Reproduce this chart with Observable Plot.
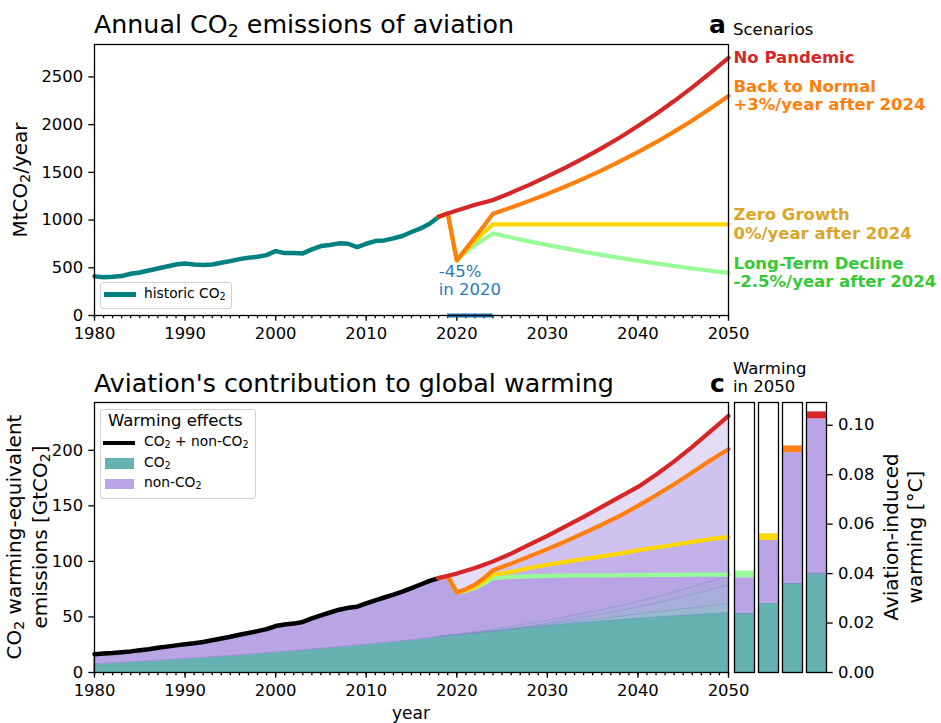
<!DOCTYPE html>
<html><head><meta charset="utf-8">
<script src="https://cdn.jsdelivr.net/npm/d3@7"></script>
<script src="https://cdn.jsdelivr.net/npm/@observablehq/plot@0.6"></script>
<style>
body{margin:0;background:#fff;font-family:"DejaVu Sans",sans-serif;color:#000;}
#root{position:relative;width:941px;height:723px;overflow:hidden;background:#fff;}
.abs{position:absolute;white-space:pre;line-height:1;}
.rot{position:absolute;white-space:pre;text-align:center;transform:translate(-50%,-50%) rotate(-90deg);font-size:20px;line-height:24px;}
.lg{position:absolute;border:1px solid #d0d0d0;border-radius:3px;background:rgba(255,255,255,0.85);}
.sub{font-size:0.7em;position:relative;top:0.24em;}
</style></head><body><div id="root"></div>
<script>
// ---------- DATA ----------
const histYears = d3.range(1980, 2019);
// historic aviation CO2 emissions, MtCO2/year
const histMt = [410,402,406,413,437,451,472,493,514,535,546,535,528,535,553,570,591,605,616,633,675,654,654,651,693,728,738,756,752,717,752,780,787,808,833,875,913,962,1035];
// historic warming-equivalent emissions, GtCO2 (cumulative)
const histCO2Gt = [8.0,8.4,8.8,9.2,9.65,10.1,10.55,11.05,11.55,12.1,12.65,13.2,13.7,14.25,14.8,15.35,15.95,16.55,17.15,17.8,18.45,19.1,19.75,20.4,21.1,21.8,22.55,23.3,24.05,24.8,25.55,26.3,27.1,27.9,28.7,29.55,30.45,31.35,32.35];
const histTotGt = [16.5,17,17.5,18.2,19,20,21,22.2,23.3,24.4,25.5,26.3,27.5,29,30.6,32.2,34,35.6,37.2,39,41.8,43.2,44,45.5,48.7,51.5,54,56.5,58.2,59.2,62.2,65,67.5,70,72.8,76,79.2,82.4,85];

const scenarioYears = [2018,2019,2020,2021,2022,2023,2024,2026,2028,2030,2032,2034,2036,2038,2040,2042,2044,2046,2048,2050];
const scenarioNames = ["Long-Term Decline","Zero Growth","Back to Normal","No Pandemic"];
const scenarioNotes = ["-2.5%/year after 2024","0%/year after 2024","+3%/year after 2024",""];
const lineColors = ["#98fb98","#ffd700","#ff7f0e","#d62728"];
const textColors = ["#36c936","#d9a62a","#ff7f0e","#d62728"];

// annual emissions, MtCO2/year
const ltdMt = [1035,1070,577,660,740,800,860,818,777,739,703,668,635,604,574,546,519,493,469,446];
const zgMt  = [1035,1070,577,680,780,870,955,955,955,955,955,955,955,955,955,955,955,955,955,955];
const btnMt = [1035,1070,577,700,820,940,1067,1132,1201,1274,1352,1434,1521,1614,1712,1816,1927,2044,2169,2300];
const npMt  = [1035,1070,1100,1130,1160,1185,1210,1287,1369,1457,1550,1649,1754,1866,1985,2112,2247,2390,2543,2700];

// warming-equivalent emissions, GtCO2: total (CO2 + non-CO2)
const ltdTot = [85,86.5,72,73.5,76,80,85,86,86.5,87,87.2,87.4,87.5,87.6,87.7,87.8,87.9,88,88,88];
const zgTot  = [85,86.5,72,74,77,82,88,90.5,94,97,99.5,102,104.5,107,110,112.5,115,117.5,120,122];
const btnTot = [85,86.5,72,75,79,85,92,98,104.5,111,118,125.5,133,141,150,159.5,169.5,180,191,201];
const npTot  = [85,87,89,91.5,94,97,100,107,115,123,131.5,140,149,158,167,178,190,203,217,231];
// CO2 part
const ltdCO2 = [32.35,33.4,34.0,34.7,35.5,36.4,37.3,39.0,40.6,42.1,43.5,44.9,46.2,47.4,48.6,49.7,50.8,51.8,52.8,53.7];
const zgCO2  = [32.35,33.4,34.0,34.7,35.5,36.4,37.3,39.2,41.1,43.0,44.9,46.9,48.8,50.7,52.6,54.5,56.4,58.3,60.3,62.2];
const btnCO2 = [32.35,33.4,34.0,34.7,35.5,36.4,37.3,39.5,41.8,44.3,46.9,49.7,52.6,55.7,59.0,62.5,66.3,70.3,74.5,79.0];
const npCO2  = [32.35,33.4,34.5,35.6,36.7,37.8,39.0,41.5,44.2,47.0,50.0,53.2,56.6,60.2,64.0,68.1,72.4,77.0,81.9,87.1];

// warming in 2050, degC
const barCO2    = [0.024,0.028,0.036,0.040];
const barNonTop = [0.0383,0.0534,0.0889,0.1026];
const barTotal  = [0.041,0.0561,0.0916,0.1054];

const pandemic = [2019, 2024];
const dropText = "-45%\nin 2020";

const xTicks = [1980,1990,2000,2010,2020,2030,2040,2050];
const minorYears = d3.range(1980, 2051);
const yTicksTop = [0,500,1000,1500,2000,2500];
const yTicksBottom = [0,50,100,150,200];
const yTicksWarm = [0,0.02,0.04,0.06,0.08,0.10];

// ---------- TABLES ----------
const mtSeries = [ltdMt, zgMt, btnMt, npMt];
const totSeries = [ltdTot, zgTot, btnTot, npTot];
const co2Series = [ltdCO2, zgCO2, btnCO2, npCO2];
const scen = scenarioNames.map((name, s) => ({
  name, color: lineColors[s], textColor: textColors[s],
  label: scenarioNotes[s] ? name + "\n" + scenarioNotes[s] : name,
  rows: scenarioYears.map((year, i) => ({year, mt: mtSeries[s][i], tot: totSeries[s][i], co2: co2Series[s][i]}))
}));
const hist = histYears.map((year, i) => ({year, mt: histMt[i], co2: histCO2Gt[i], tot: histTotGt[i]}));
const baseRows = scenarioYears.map((year, i) => ({year, co2: d3.min(co2Series, a => a[i])}));
const endLabels = scen.map(s => ({...s.rows[s.rows.length - 1], label: s.label, color: s.textColor}));

const TEAL = "#66b2b2", PURPLE = "rgb(185,165,230)", PURPLE_L = "rgb(159,130,219)", EDGE = "#7f86cc";
const style = {background: "transparent", fontFamily: "'DejaVu Sans', sans-serif", fontSize: "16.4px", color: "black", overflow: "visible"};
const axisOpts = {tickSize: 5.7, tickPadding: 5.7, label: null, strokeWidth: 1.3};

const root = document.getElementById("root");
function place(el, left, top) {
  const d = document.createElement("div");
  d.style.position = "absolute"; d.style.left = left + "px"; d.style.top = top + "px";
  d.appendChild(el); root.appendChild(d);
}
// text with CO2 subscripts rendered like matplotlib mathtext
function html(cls, text, css) {
  const d = document.createElement("div");
  d.className = cls;
  const esc = text.replace(/&/g, "&amp;").replace(/</g, "&lt;");
  d.innerHTML = esc.replace(/₂/g, '<span class="sub">2</span>');
  Object.assign(d.style, css); root.appendChild(d); return d;
}

// ---------- TOP PANEL ----------
const topPlot = Plot.plot({
  width: 941, height: 340,
  marginLeft: 94, marginRight: 213, marginTop: 44, marginBottom: 25,
  x: {domain: [1980, 2050]},
  y: {domain: [0, 2840]},
  style,
  marks: [
    Plot.axisX({...axisOpts, ticks: minorYears, tickSize: 3.3, tickFormat: () => ""}),
    Plot.axisX({...axisOpts, ticks: xTicks, tickFormat: "d"}),
    Plot.axisY({...axisOpts, ticks: yTicksTop, tickFormat: "d"}),
    Plot.ruleY([0], {x1: pandemic[0], x2: pandemic[1], stroke: "#1f77b4", strokeWidth: 4}),
    Plot.line(hist, {x: "year", y: "mt", stroke: "#008080", strokeWidth: 4.5}),
    ...scen.map(s => Plot.line(s.rows, {x: "year", y: "mt", stroke: s.color, strokeWidth: 4.2})),
    Plot.text([dropText], {x: pandemic[0] + 1, y: d3.min(btnMt), text: d => d, dx: -18, dy: 3, textAnchor: "start", lineAnchor: "top", fill: "#2a7ab8", fontSize: 16.5, lineHeight: 1.13}),
    Plot.text(endLabels, {x: "year", y: "mt", text: "label", fill: "color", dx: 5, dy: -1, textAnchor: "start", lineAnchor: "middle", fontWeight: "bold", fontSize: 16.5, lineHeight: 1.13}),
    Plot.frame({stroke: "black", strokeWidth: 1.3})
  ]
});
place(topPlot, 0, 0);

// ---------- BOTTOM PANEL ----------
const botPlot = Plot.plot({
  width: 941, height: 383,
  marginLeft: 94, marginRight: 213, marginTop: 62, marginBottom: 51,
  x: {domain: [1980, 2050]},
  y: {domain: [0, 243]},
  style,
  marks: [
    ...scen.map(s => Plot.areaY(s.rows, {x: "year", y1: 0, y2: "co2", fill: TEAL, fillOpacity: 0.3})),
    Plot.areaY(baseRows, {x: "year", y1: 0, y2: "co2", fill: TEAL}),
    ...scen.map(s => Plot.areaY(s.rows, {x: "year", y1: "co2", y2: "tot", fill: PURPLE_L, fillOpacity: 0.28})),
    Plot.areaY(hist, {x: "year", y1: 0, y2: "co2", fill: TEAL, stroke: TEAL, strokeWidth: 2}),
    Plot.areaY(hist, {x: "year", y1: "co2", y2: "tot", fill: PURPLE, stroke: PURPLE, strokeWidth: 2}),
    Plot.line(hist, {x: "year", y: "co2", stroke: EDGE, strokeWidth: 1, strokeOpacity: 0.6}),
    ...scen.map(s => Plot.line(s.rows, {x: "year", y: "co2", stroke: EDGE, strokeWidth: 1, strokeOpacity: 0.45})),
    Plot.line(hist, {x: "year", y: "tot", stroke: "black", strokeWidth: 4.5}),
    ...scen.map(s => Plot.line(s.rows, {x: "year", y: "tot", stroke: s.color, strokeWidth: 4.2})),
    Plot.axisX({...axisOpts, ticks: minorYears, tickSize: 3.3, tickFormat: () => ""}),
    Plot.axisX({...axisOpts, ticks: xTicks, tickFormat: "d"}),
    Plot.axisY({...axisOpts, ticks: yTicksBottom, tickFormat: "d"}),
    Plot.frame({stroke: "black", strokeWidth: 1.3})
  ]
});
place(botPlot, 0, 340);

// ---------- BARS (warming in 2050) ----------
const segs = [];
scenarioNames.forEach((name, i) => {
  segs.push({scenario: name, y1: 0, y2: barCO2[i], fill: TEAL});
  segs.push({scenario: name, y1: barCO2[i], y2: barNonTop[i], fill: PURPLE});
  segs.push({scenario: name, y1: barNonTop[i], y2: barTotal[i], fill: lineColors[i]});
});
const edgeRows = scenarioNames.map((name, i) => ({scenario: name, y: barCO2[i]}));
const barPlot = Plot.plot({
  width: 941, height: 383,
  marginLeft: 733, marginRight: 115, marginTop: 62, marginBottom: 51,
  fx: {domain: scenarioNames, paddingInner: 0.18, paddingOuter: 0, axis: null},
  y: {domain: [0, 0.1092]},
  color: {type: "identity"},
  style,
  marks: [
    Plot.rect(segs, {fx: "scenario", y1: "y1", y2: "y2", fill: "fill"}),
    Plot.ruleY(edgeRows, {fx: "scenario", y: "y", stroke: EDGE, strokeWidth: 1, strokeOpacity: 0.7}),
    Plot.frame({stroke: "black", strokeWidth: 1.3}),
    Plot.axisY({...axisOpts, anchor: "right", ticks: yTicksWarm, tickFormat: ".2f"})
  ]
});
place(barPlot, 0, 340);

// ---------- TEXT ----------
html("abs", "Annual CO₂ emissions of aviation", {left: "94px", top: "12px", fontSize: "25.3px"});
html("abs", "Aviation's contribution to global warming", {left: "94px", top: "371px", fontSize: "25.3px"});
html("abs", "a", {left: "709px", top: "12px", fontSize: "25px", fontWeight: "bold"});
html("abs", "Scenarios", {left: "733px", top: "22px", fontSize: "16.5px"});
html("abs", "c", {left: "710px", top: "371px", fontSize: "25px", fontWeight: "bold"});
html("abs", "Warming\nin 2050", {left: "733px", top: "360px", fontSize: "16.5px", lineHeight: "17.7px"});
html("abs", "year", {left: "411px", top: "705px", fontSize: "17px", transform: "translateX(-50%)"});
html("rot", "MtCO₂/year", {left: "21px", top: "180px"});
html("rot", "CO₂ warming-equivalent\nemissions [GtCO₂]", {left: "28px", top: "537px"});
html("rot", "Aviation-induced\nwarming [°C]", {left: "903px", top: "537px"});

// legend top
html("lg", "", {left: "100px", top: "282px", width: "130px", height: "25px"});
html("abs", "", {left: "104px", top: "292px", width: "32px", height: "4.5px", background: "#008080"});
html("abs", "historic CO₂", {left: "144px", top: "287px", fontSize: "13.8px"});

// legend bottom
html("lg", "", {left: "100px", top: "409px", width: "154px", height: "88px"});
html("abs", "Warming effects", {left: "108px", top: "413px", fontSize: "16.5px"});
html("abs", "", {left: "103px", top: "440.5px", width: "32px", height: "4.5px", background: "black"});
html("abs", "CO₂ + non-CO₂", {left: "144px", top: "435px", fontSize: "13.8px"});
html("abs", "", {left: "105px", top: "458px", width: "29px", height: "11px", background: TEAL});
html("abs", "CO₂", {left: "144px", top: "456px", fontSize: "13.8px"});
html("abs", "", {left: "105px", top: "479px", width: "29px", height: "10px", background: PURPLE});
html("abs", "non-CO₂", {left: "144px", top: "476px", fontSize: "13.8px"});
</script></body></html>
